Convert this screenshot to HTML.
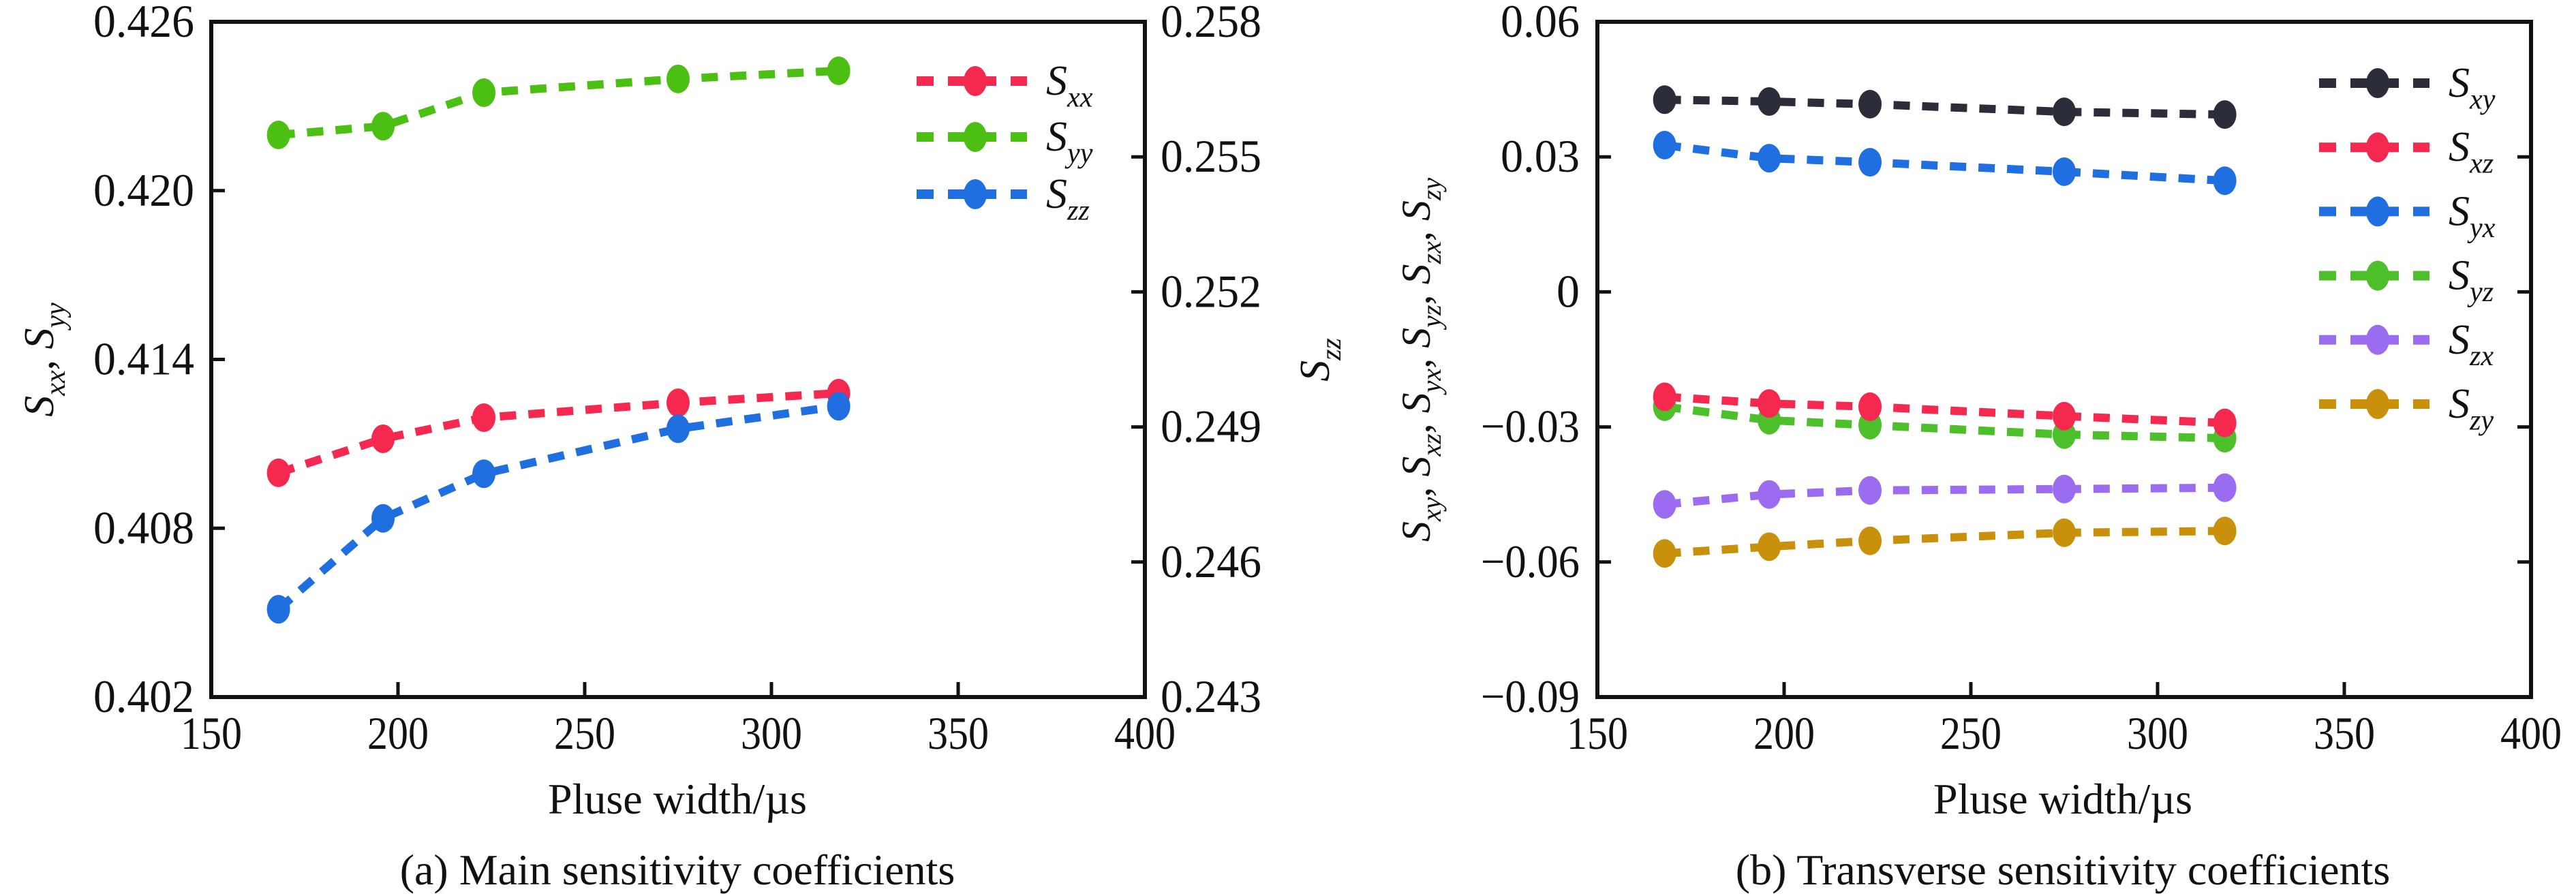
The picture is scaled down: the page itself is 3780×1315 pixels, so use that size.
<!DOCTYPE html>
<html><head><meta charset="utf-8"><style>
body{margin:0;background:#fff}
svg{display:block}
svg text{font-family:"Liberation Serif","DejaVu Serif",serif !important;fill:#111}
</style></head><body>
<svg id="svg" xmlns="http://www.w3.org/2000/svg" width="3780" height="1315" viewBox="0 0 3780 1315"></svg>
<script>
const xs = [168, 196, 223, 275, 318];
const xTicks = [150, 200, 250, 300, 350, 400];
// panel a
const sxx = [0.40997, 0.41118, 0.41193, 0.41246, 0.4128];
const syy = [0.42198, 0.42229, 0.42348, 0.42397, 0.42426];
const szz = [0.24495, 0.24697, 0.24796, 0.24896, 0.24946];
const leftTicksA = [0.402, 0.408, 0.414, 0.420, 0.426];
const rightTicksA = [0.243, 0.246, 0.249, 0.252, 0.255, 0.258];
// panel b
const sxy = [0.0427, 0.0423, 0.0417, 0.0400, 0.0394];
const sxz = [-0.0233, -0.0248, -0.0255, -0.0276, -0.0291];
const syx = [0.0326, 0.0297, 0.0288, 0.0267, 0.0247];
const syz = [-0.0255, -0.0285, -0.0296, -0.0317, -0.0325];
const szx = [-0.0472, -0.0450, -0.0441, -0.0438, -0.0435];
const szy = [-0.0581, -0.0566, -0.0553, -0.0535, -0.0531];
const ticksB = [-0.09, -0.06, -0.03, 0, 0.03, 0.06];
const tickLabelsB = ["\u22120.09", "\u22120.06", "\u22120.03", "0", "0.03", "0.06"];

const NS = "http://www.w3.org/2000/svg";
const svg = document.getElementById('svg');
function mk(tag, attrs, parent) {
  const e = document.createElementNS(NS, tag);
  if (tag === 'text') e.setAttribute('font-family', 'Liberation Serif, serif');
  for (const k in attrs) e.setAttribute(k, attrs[k]);
  (parent || svg).appendChild(e);
  return e;
}
const TOP = 32, BOT = 1023;
function xScale(x0) { return v => x0 + (v - 150) / 250 * 1370; }
function yScale(lo, hi) { return v => TOP + (hi - v) / (hi - lo) * (BOT - TOP); }

function subLabel(g, x, y, sub, size) {
  const t = mk('text', {x: x, y: y, 'font-size': size, 'font-style': 'italic'}, g);
  t.appendChild(document.createTextNode('S'));
  const ts = mk('tspan', {dy: size * 0.28, 'font-size': size * 0.68}, t);
  ts.textContent = sub;
  return t;
}

function series(g, name, vals, X, Y, color) {
  const sg = mk('g', {}, g);
  
  
  const pts = vals.map((v, i) => X(xs[i]) + ',' + Y(v)).join(' ');
  const pl = mk('polyline', {points: pts, fill: 'none', stroke: color, 'stroke-width': 12, 'stroke-dasharray': '24 18'}, sg);
  
  
  vals.forEach((v, i) => {
    const m = mk('ellipse', {cx: X(xs[i]), cy: Y(v), rx: 17, ry: 21, fill: color}, sg);
    
    
  });
}

function legend(g, name, sub, x, y, color) {
  const lg = mk('g', {}, g);
  
  
  mk('line', {x1: x, y1: y, x2: x + 162, y2: y, stroke: color, 'stroke-width': 14, 'stroke-dasharray': '25 21'}, lg);
  mk('ellipse', {cx: x + 86, cy: y, rx: 17, ry: 22, fill: color}, lg);
  subLabel(lg, x + 190, y + 20, sub, 62);
}

function frame(g, x0, name) {
  const ax = mk('rect', {x: x0, y: TOP, width: 1370, height: BOT - TOP, fill: 'none', stroke: '#111', 'stroke-width': 6}, g);
  
  
  const X = xScale(x0);
  xTicks.forEach(t => {
    mk('line', {x1: X(t), y1: BOT, x2: X(t), y2: BOT - 22, stroke: '#111', 'stroke-width': 5}, g);
    const tl = mk('text', {x: X(t), y: 1099, 'font-size': 68, 'text-anchor': 'middle', textLength: 90, lengthAdjust: 'spacingAndGlyphs'}, g);
    tl.textContent = t;
    
    
  });
  return X;
}

// ---- Panel a ----
const ga = mk('g', {});


const XA = frame(ga, 310, 'panel-a');
const YA = yScale(0.402, 0.426);
const YA2 = yScale(0.243, 0.258);
leftTicksA.forEach(t => {
  mk('line', {x1: 310, y1: YA(t), x2: 330, y2: YA(t), stroke: '#111', 'stroke-width': 5}, ga);
  const tl = mk('text', {x: 285, y: YA(t) + 22, 'font-size': 68, 'text-anchor': 'end', textLength: 148, lengthAdjust: 'spacingAndGlyphs'}, ga);
  tl.textContent = t.toFixed(3);
  
  
});
rightTicksA.forEach(t => {
  mk('line', {x1: 1680, y1: YA2(t), x2: 1660, y2: YA2(t), stroke: '#111', 'stroke-width': 5}, ga);
  const tl = mk('text', {x: 1703, y: YA2(t) + 22, 'font-size': 68, textLength: 148, lengthAdjust: 'spacingAndGlyphs'}, ga);
  tl.textContent = t.toFixed(3);
  
  
});
series(ga, 'sxx', sxx, XA, YA, '#f52850');
series(ga, 'syy', syy, XA, YA, '#4cbf13');
series(ga, 'szz', szz, XA, YA2, '#1f6fe0');
legend(ga, 'sxx', 'xx', 1345, 119, '#f52850');
legend(ga, 'syy', 'yy', 1345, 201, '#4cbf13');
legend(ga, 'szz', 'zz', 1345, 285, '#1f6fe0');
const yla = mk('g', {transform: 'translate(78,528) rotate(-90)'}, ga);


const ylt = mk('text', {x: 0, y: 0, 'font-size': 62, 'font-style': 'italic', 'text-anchor': 'middle'}, yla);
ylt.innerHTML = 'S<tspan dy="17" font-size="42">xx</tspan><tspan dy="-17" font-style="normal">, </tspan>S<tspan dy="17" font-size="42">yy</tspan>';
const yra = mk('g', {transform: 'translate(1950,528) rotate(-90)'}, ga);


const yrt = mk('text', {x: 0, y: 0, 'font-size': 62, 'font-style': 'italic', 'text-anchor': 'middle'}, yra);
yrt.innerHTML = 'S<tspan dy="17" font-size="42">zz</tspan>';
const xla = mk('text', {x: 994, y: 1194, 'font-size': 64, 'text-anchor': 'middle'}, ga);
xla.textContent = 'Pluse width/\u00b5s';


const capa = mk('text', {x: 994, y: 1298, 'font-size': 64, 'text-anchor': 'middle'}, ga);
capa.textContent = '(a) Main sensitivity coefficients';



// ---- Panel b ----
const gb = mk('g', {});


const XB = frame(gb, 2344, 'panel-b');
const YB = yScale(-0.09, 0.06);
ticksB.forEach((t, i) => {
  mk('line', {x1: 2344, y1: YB(t), x2: 2364, y2: YB(t), stroke: '#111', 'stroke-width': 5}, gb);
  mk('line', {x1: 3714, y1: YB(t), x2: 3694, y2: YB(t), stroke: '#111', 'stroke-width': 5}, gb);
  const lbl = tickLabelsB[i];
  const tl = mk('text', {x: 2318, y: YB(t) + 22, 'font-size': 68, 'text-anchor': 'end'}, gb);
  if (lbl.length > 1) { tl.setAttribute('textLength', lbl.length * 29); tl.setAttribute('lengthAdjust', 'spacingAndGlyphs'); }
  tl.textContent = lbl;
  
  
});
series(gb, 'syz', syz, XB, YB, '#4cbf2a');
series(gb, 'sxz', sxz, XB, YB, '#f52850');
series(gb, 'sxy', sxy, XB, YB, '#2b2d3a');
series(gb, 'syx', syx, XB, YB, '#1f6fe0');
series(gb, 'szx', szx, XB, YB, '#9b6cf0');
series(gb, 'szy', szy, XB, YB, '#c9900c');
const legB = [['sxy','xy','#2b2d3a'],['sxz','xz','#f52850'],['syx','yx','#1f6fe0'],['syz','yz','#4cbf2a'],['szx','zx','#9b6cf0'],['szy','zy','#c9900c']];
legB.forEach((l, i) => legend(gb, l[0], l[1], 3403, 122 + i * 94.2, l[2]));
const ylb = mk('g', {transform: 'translate(2098,528) rotate(-90)'}, gb);


const yb = mk('text', {x: 0, y: 0, 'font-size': 60, 'font-style': 'italic', 'text-anchor': 'middle'}, ylb);
yb.innerHTML = ['xy','xz','yx','yz','zx','zy'].map((s, i) => 'S<tspan dy="16" font-size="40">' + s + '</tspan><tspan dy="-16" font-style="normal">' + (i < 5 ? ', ' : '') + '</tspan>').join('');
const xlb = mk('text', {x: 3027, y: 1194, 'font-size': 64, 'text-anchor': 'middle'}, gb);
xlb.textContent = 'Pluse width/\u00b5s';


const capb = mk('text', {x: 3027, y: 1298, 'font-size': 64, 'text-anchor': 'middle'}, gb);
capb.textContent = '(b) Transverse sensitivity coefficients';


</script>
</body></html>
